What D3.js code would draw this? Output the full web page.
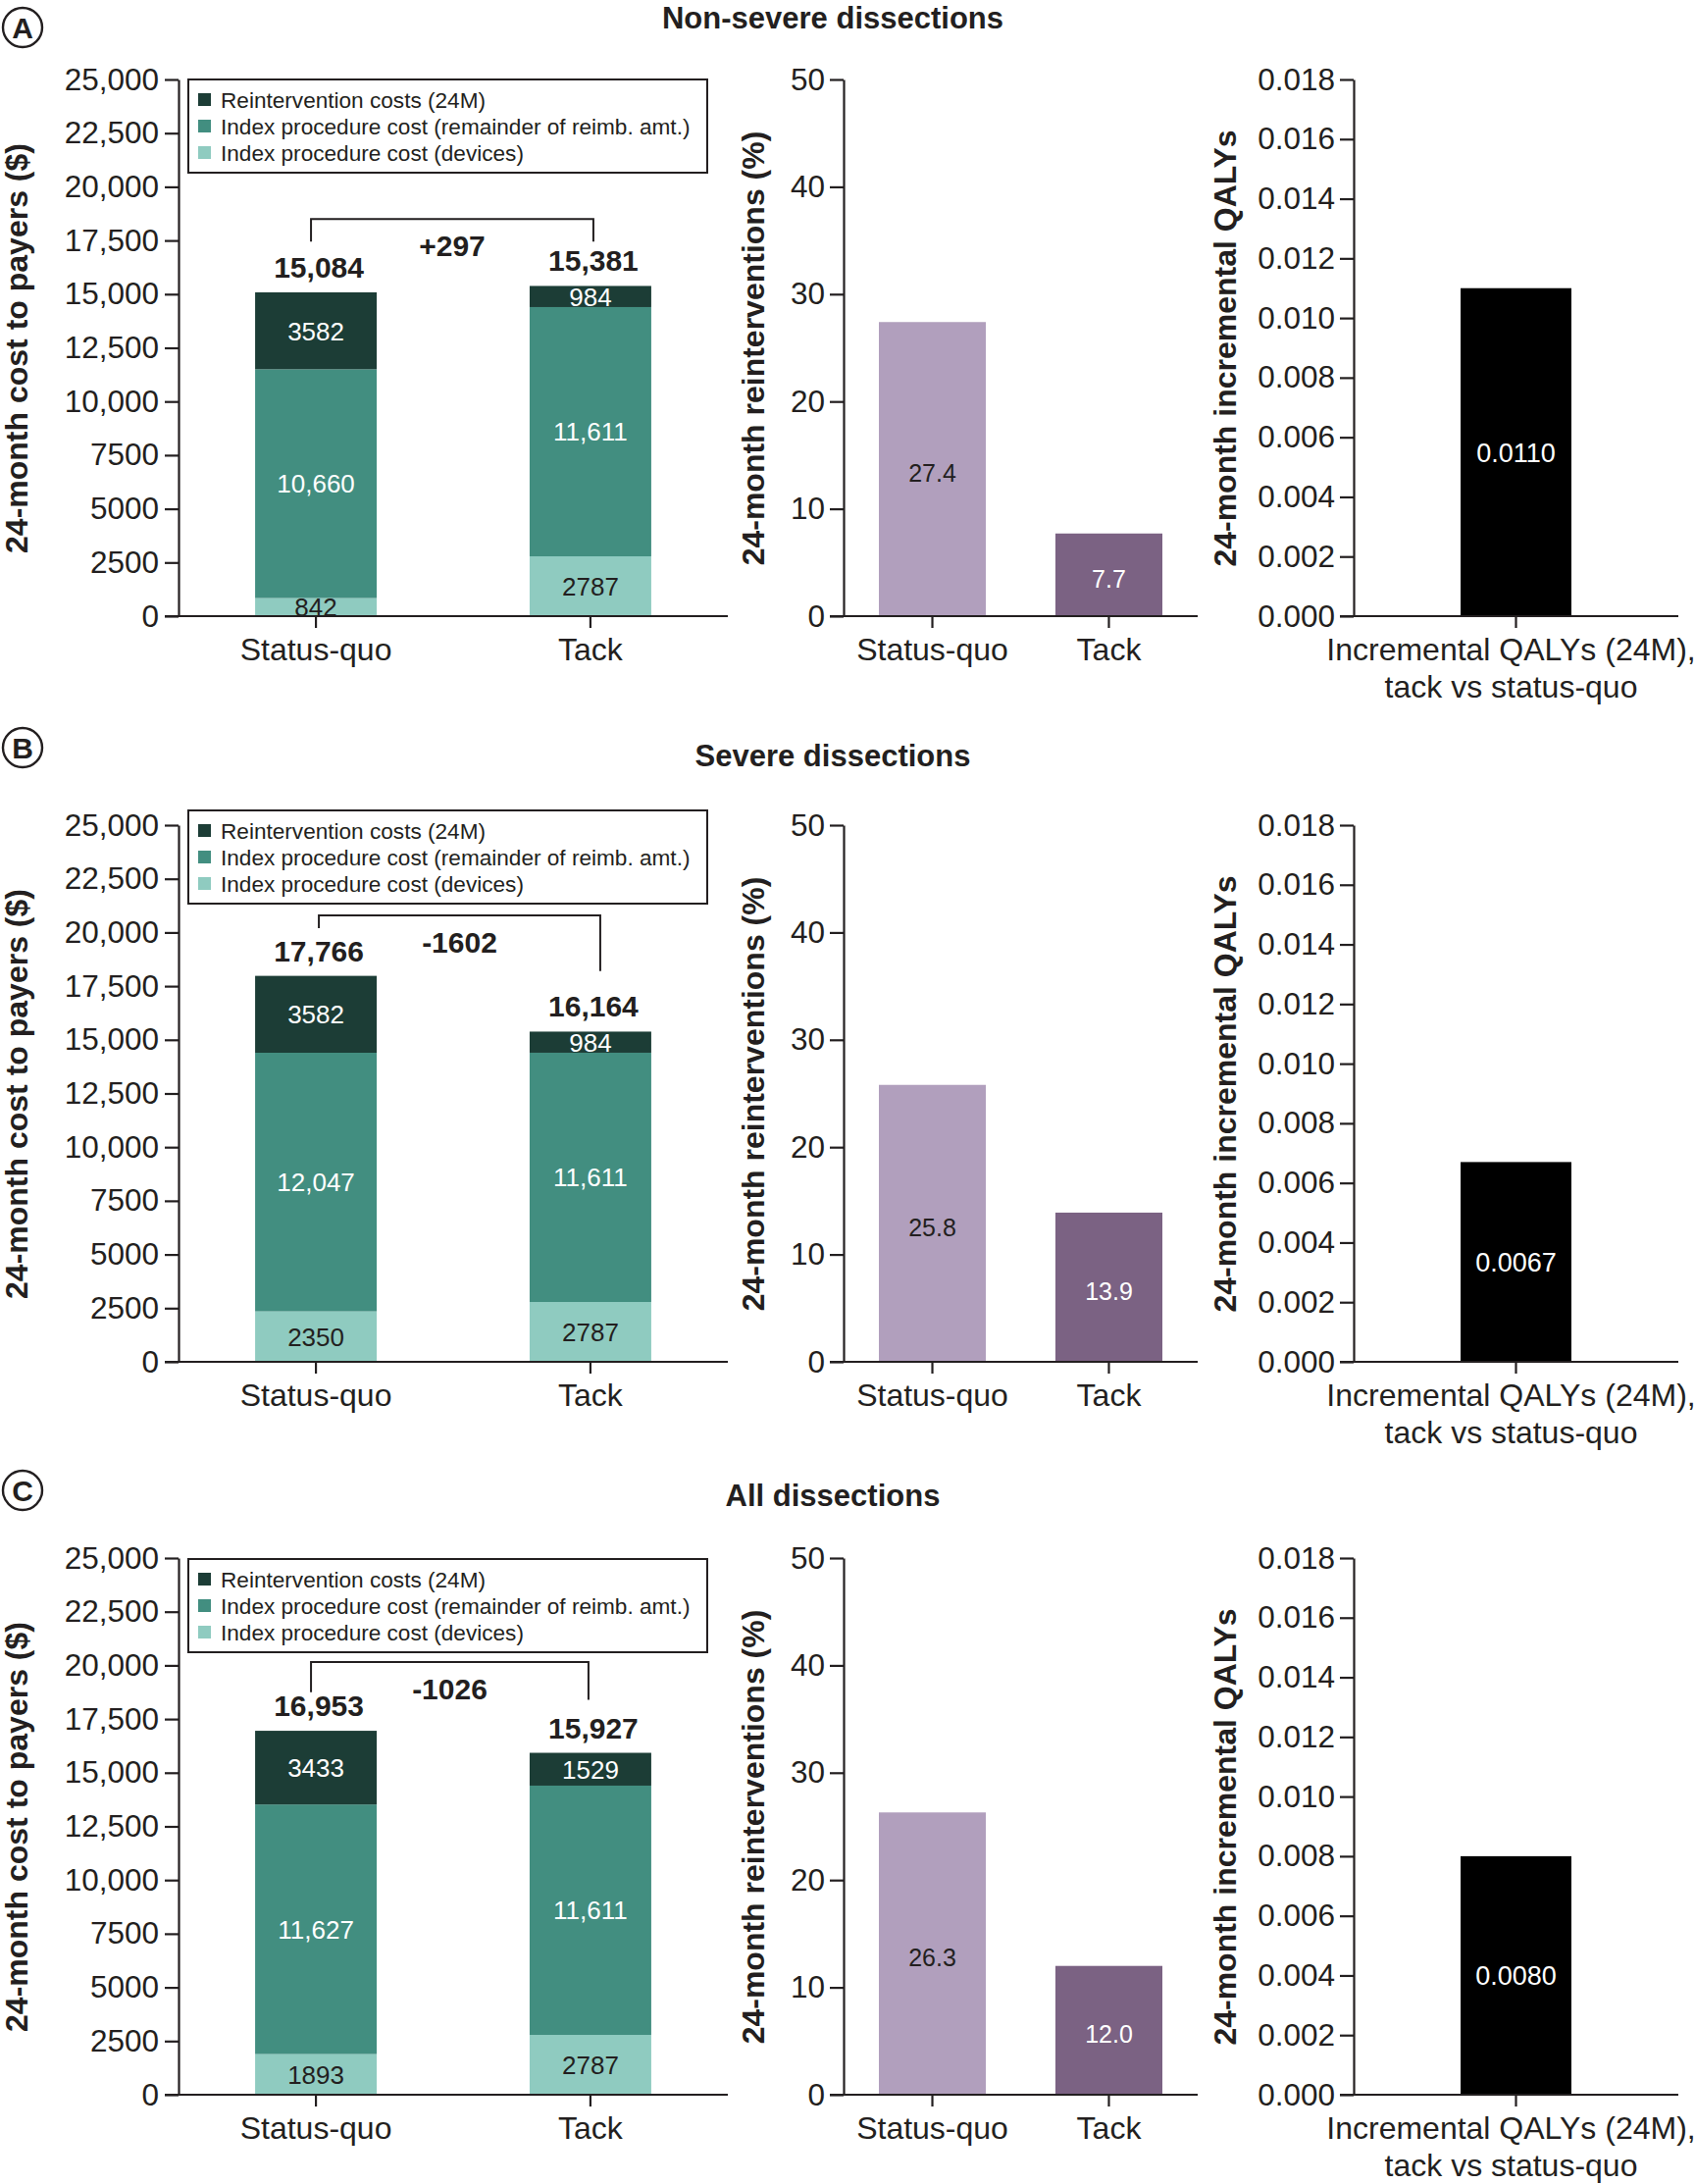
<!DOCTYPE html>
<html>
<head>
<meta charset="utf-8">
<script src="https://cdn.jsdelivr.net/npm/d3@7"></script>
<style>
  body { margin: 0; background: #fff; }
  svg text { font-family: "Liberation Sans", Arial, Helvetica, sans-serif; fill: #231f20; }
</style>
</head>
<body>
<svg id="fig" width="1728" height="2226"></svg>
<script>
// categories
var groups = ["Status-quo", "Tack"];
var panelLetters = ["A", "B", "C"];
var panelTitles = ["Non-severe dissections", "Severe dissections", "All dissections"];
var legendNames = ["Reintervention costs (24M)", "Index procedure cost (remainder of reimb. amt.)", "Index procedure cost (devices)"];

// cost components, [status-quo, tack] per panel
var deviceCost = [[842, 2787], [2350, 2787], [1893, 2787]];
var remainderCost = [[10660, 11611], [12047, 11611], [11627, 11611]];
var reintCost = [[3582, 984], [3582, 984], [3433, 1529]];
var totalLabels = [["15,084", "15,381"], ["17,766", "16,164"], ["16,953", "15,927"]];
var diffLabels = ["+297", "-1602", "-1026"];

// reintervention rate (%) and incremental QALYs
var reintRate = [[27.4, 7.7], [25.8, 13.9], [26.3, 12.0]];
var qalyGain = [0.0110, 0.0067, 0.0080];
var qalyCategory = ["Incremental QALYs (24M),", "tack vs status-quo"];

// tick values
var costTicks = [0, 2500, 5000, 7500, 10000, 12500, 15000, 17500, 20000, 22500, 25000];
var rateTicks = [0, 10, 20, 30, 40, 50];
var qalyTicks = [0, 0.002, 0.004, 0.006, 0.008, 0.010, 0.012, 0.014, 0.016, 0.018];

// layout (not data)
var rowTop = [0, 760, 1507];
var titleY = [29, 781, 1535];
var letterY = [28, 762, 1519];
var legendTop = [81, 66, 82];
var bracketTop = [18500, 20800, 20150];            // in $ units
var bracketLegs = [[17450, 17450], [20200, 18200], [18750, 18400]];
var bracketShift = [[-5, 3], [3, 10], [-5, -2]];
var plotTop = 81, plotBottom = 628;

var ink = "#231f20";
var segKeys = ["device", "remainder", "reint"];
var segColor = { reint: "#1c3d36", remainder: "#428e80", device: "#8fcbc0" };
var segText = { reint: "#fff", remainder: "#fff", device: ink };
var rateColor = ["#b19fbd", "#7b6283"];
var rateText = [ink, "#fff"];

var svg = d3.select("#fig");
var fmtComma = d3.format(",");
var fmtCost = function(d) { return d >= 10000 ? fmtComma(d) : String(d); };

function styleAxis(sel, size) {
  sel.selectAll("line,path").attr("stroke", ink).attr("stroke-width", 2.2);
  sel.selectAll("text").attr("font-size", size).attr("fill", ink);
}

function xLine(g, x0, x1) {
  g.append("line").attr("x1", x0).attr("x2", x1).attr("y1", plotBottom).attr("y2", plotBottom)
    .attr("stroke", ink).attr("stroke-width", 2.2);
}

function yTitle(g, x, text) {
  g.append("text").attr("transform", "translate(" + x + "," + 355 + ") rotate(-90)")
    .attr("text-anchor", "middle").attr("dy", "0.35em")
    .attr("font-size", 32).attr("font-weight", "bold").text(text);
}

panelLetters.forEach(function(letter, p) {
  // panel letter and title
  svg.append("circle").attr("cx", 23).attr("cy", letterY[p]).attr("r", 20)
    .attr("fill", "none").attr("stroke", ink).attr("stroke-width", 2.4);
  svg.append("text").attr("x", 23).attr("y", letterY[p]).attr("dy", "0.36em")
    .attr("text-anchor", "middle").attr("font-size", 30).attr("font-weight", "bold").text(letter);
  svg.append("text").attr("x", 849).attr("y", titleY[p]).attr("text-anchor", "middle")
    .attr("font-size", 31).attr("font-weight", "bold").text(panelTitles[p]);

  var g = svg.append("g").attr("transform", "translate(0," + rowTop[p] + ")");

  // ---- stacked cost chart ----
  var yCost = d3.scaleLinear().domain([0, 25000]).range([plotBottom, plotTop]);
  var xCost = d3.scaleBand().domain(groups).range([182, 742]).paddingInner(0.557).paddingOuter(0.279);

  var rows = groups.map(function(name, i) {
    return { name: name, device: deviceCost[p][i], remainder: remainderCost[p][i], reint: reintCost[p][i] };
  });
  var stacked = d3.stack().keys(segKeys)(rows);

  var layers = g.append("g").selectAll("g").data(stacked).join("g");
  layers.selectAll("rect").data(function(s) { return s.map(function(d) { d.key = s.key; return d; }); })
    .join("rect")
    .attr("x", function(d) { return xCost(d.data.name); })
    .attr("width", xCost.bandwidth())
    .attr("y", function(d) { return yCost(d[1]); })
    .attr("height", function(d) { return yCost(d[0]) - yCost(d[1]); })
    .attr("fill", function(d) { return segColor[d.key]; });
  layers.selectAll("text").data(function(s) { return s; })
    .join("text")
    .attr("x", function(d) { return xCost(d.data.name) + xCost.bandwidth() / 2; })
    .attr("y", function(d) { return (yCost(d[0]) + yCost(d[1])) / 2; })
    .attr("dy", "0.36em").attr("text-anchor", "middle").attr("font-size", 26)
    .style("fill", function(d) { return segText[d.key]; })
    .text(function(d) { return fmtCost(d[1] - d[0]); });

  var yAx = g.append("g").attr("transform", "translate(182,0)")
    .call(d3.axisLeft(yCost).tickValues(costTicks).tickSize(14).tickSizeOuter(0).tickPadding(6).tickFormat(fmtCost));
  styleAxis(yAx, 31.5);
  var xAx = g.append("g").attr("transform", "translate(0," + plotBottom + ")")
    .call(d3.axisBottom(xCost).tickSize(12).tickSizeOuter(0).tickPadding(10));
  xAx.select(".domain").remove();
  styleAxis(xAx, 32);
  xLine(g, 168, 742);
  yTitle(g, 17, "24-month cost to payers ($)");

  // totals and difference bracket
  var tops = stacked[2].map(function(d) { return d[1]; });
  groups.forEach(function(name, i) {
    g.append("text").attr("x", xCost(name) + xCost.bandwidth() / 2 + 3).attr("y", yCost(tops[i]) - 15)
      .attr("text-anchor", "middle").attr("font-size", 30).attr("font-weight", "bold").text(totalLabels[p][i]);
  });
  var cx0 = xCost(groups[0]) + xCost.bandwidth() / 2 + bracketShift[p][0];
  var cx1 = xCost(groups[1]) + xCost.bandwidth() / 2 + bracketShift[p][1];
  g.append("path")
    .attr("d", "M" + cx0 + "," + yCost(bracketLegs[p][0]) + "V" + yCost(bracketTop[p]) +
               "H" + cx1 + "V" + yCost(bracketLegs[p][1]))
    .attr("fill", "none").attr("stroke", ink).attr("stroke-width", 2);
  g.append("text").attr("x", (cx0 + cx1) / 2).attr("y", yCost(bracketTop[p]) + 38)
    .attr("text-anchor", "middle").attr("font-size", 30).attr("font-weight", "bold").text(diffLabels[p]);

  // legend
  var lg = g.append("g").attr("transform", "translate(192," + legendTop[p] + ")");
  lg.append("rect").attr("width", 529).attr("height", 95)
    .attr("fill", "#fff").attr("stroke", ink).attr("stroke-width", 2);
  legendNames.forEach(function(name, k) {
    var key = ["reint", "remainder", "device"][k];
    lg.append("rect").attr("x", 10).attr("y", 14 + k * 27).attr("width", 13).attr("height", 13).attr("fill", segColor[key]);
    lg.append("text").attr("x", 33).attr("y", 20.5 + k * 27).attr("dy", "0.36em").attr("font-size", 22.6).text(name);
  });

  // ---- reintervention rate chart ----
  var yRate = d3.scaleLinear().domain([0, 50]).range([plotBottom, plotTop]);
  var xRate = d3.scaleBand().domain(groups).range([860, 1221]).paddingInner(0.394).paddingOuter(0.2);
  g.append("g").selectAll("rect").data(reintRate[p]).join("rect")
    .attr("x", function(d, i) { return xRate(groups[i]); })
    .attr("width", xRate.bandwidth())
    .attr("y", function(d) { return yRate(d); })
    .attr("height", function(d) { return yRate(0) - yRate(d); })
    .attr("fill", function(d, i) { return rateColor[i]; });
  g.append("g").selectAll("text").data(reintRate[p]).join("text")
    .attr("x", function(d, i) { return xRate(groups[i]) + xRate.bandwidth() / 2; })
    .attr("y", function(d) { return (yRate(0) + yRate(d)) / 2 + 4; })
    .attr("dy", "0.36em").attr("text-anchor", "middle").attr("font-size", 25)
    .style("fill", function(d, i) { return rateText[i]; })
    .text(function(d) { return d.toFixed(1); });
  var yAx2 = g.append("g").attr("transform", "translate(860,0)")
    .call(d3.axisLeft(yRate).tickValues(rateTicks).tickSize(14).tickSizeOuter(0).tickPadding(5));
  styleAxis(yAx2, 31.5);
  var xAx2 = g.append("g").attr("transform", "translate(0," + plotBottom + ")")
    .call(d3.axisBottom(xRate).tickSize(12).tickSizeOuter(0).tickPadding(10));
  xAx2.select(".domain").remove();
  styleAxis(xAx2, 32);
  xLine(g, 846, 1221);
  yTitle(g, 768, "24-month reinterventions (%)");

  // ---- incremental QALY chart ----
  var yQ = d3.scaleLinear().domain([0, 0.018]).range([plotBottom, plotTop]);
  var xQ = d3.scaleBand().domain(["qaly"]).range([1380, 1711]).paddingInner(0).paddingOuter(0.965);
  g.append("rect").datum(qalyGain[p])
    .attr("x", xQ("qaly")).attr("width", xQ.bandwidth())
    .attr("y", function(d) { return yQ(d); })
    .attr("height", function(d) { return yQ(0) - yQ(d); })
    .attr("fill", "#000");
  g.append("text").datum(qalyGain[p])
    .attr("x", xQ("qaly") + xQ.bandwidth() / 2)
    .attr("y", function(d) { return (yQ(0) + yQ(d)) / 2; })
    .attr("dy", "0.36em").attr("text-anchor", "middle").attr("font-size", 27)
    .style("fill", "#fff").text(function(d) { return d.toFixed(4); });
  var yAx3 = g.append("g").attr("transform", "translate(1380,0)")
    .call(d3.axisLeft(yQ).tickValues(qalyTicks).tickSize(14).tickSizeOuter(0).tickPadding(5).tickFormat(d3.format(".3f")));
  styleAxis(yAx3, 31.5);
  var xAx3 = g.append("g").attr("transform", "translate(0," + plotBottom + ")")
    .call(d3.axisBottom(xQ).tickSize(12).tickSizeOuter(0).tickFormat(""));
  xAx3.select(".domain").remove();
  styleAxis(xAx3, 32);
  xLine(g, 1366, 1711);
  var qt = g.append("text").attr("text-anchor", "middle").attr("font-size", 32);
  qalyCategory.forEach(function(line, k) {
    qt.append("tspan").attr("x", xQ("qaly") + xQ.bandwidth() / 2 - 5).attr("y", 673 + k * 38).text(line);
  });
  yTitle(g, 1249, "24-month incremental QALYs");
});
</script>
</body>
</html>
